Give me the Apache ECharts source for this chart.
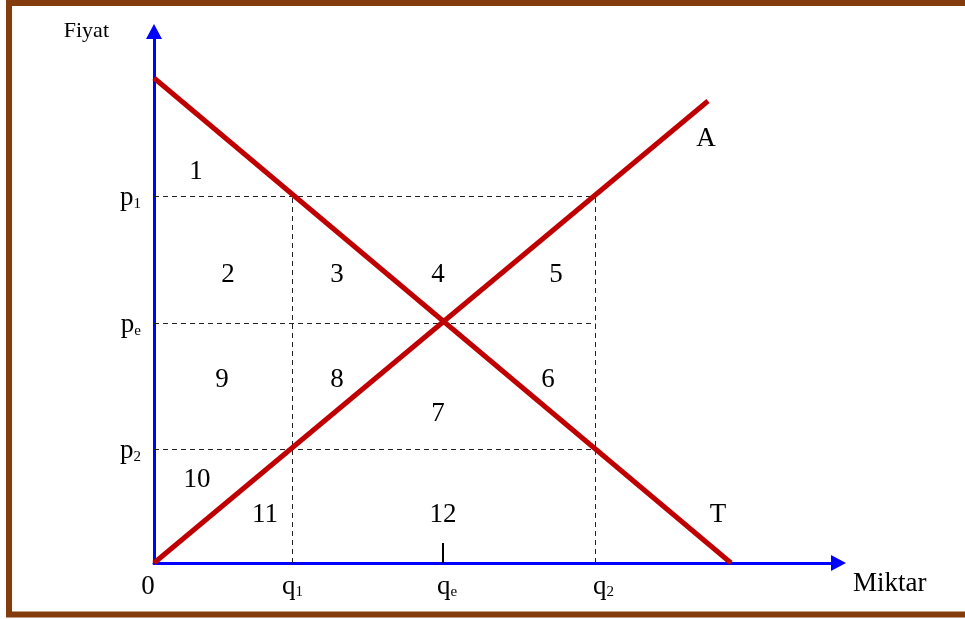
<!DOCTYPE html>
<html>
<head>
<meta charset="utf-8">
<script src="https://cdn.jsdelivr.net/npm/echarts@6/dist/echarts.min.js"></script>
<style>
  html, body { margin: 0; padding: 0; background: #fff; }
  #chart { width: 965px; height: 619px; }
</style>
</head>
<body>
<div id="chart"></div>
<script>
// price / quantity levels (axis units)
const qLevels = { q1: 138.5, qe: 289, q2: 441.5 };
const pLevels = { p1: 366.5, pe: 239.5, p2: 113.5 };

// supply (A) and demand (T) end points
const supply = [[0, 0], [554, 462]];
const demand = [[0, 485], [577, 0]];

// numbered areas + curve names: [x, y, text]
const areaLabels = [
  [42, 391, '1'],
  [74, 288, '2'], [183, 288, '3'], [284, 288, '4'], [402, 288, '5'],
  [68, 183, '9'], [183, 183, '8'], [394, 183, '6'],
  [284, 149, '7'],
  [43, 83, '10'], [111, 48, '11'], [289, 48, '12'],
  [552, 424, 'A'], [564, 48, 'T']
];

const xTickNames = ['{n|0}', '{l|q}{s|1}', '{r|q}{s|e}', '{rr|q}{s|2}'];
const yTickNames = ['{b|p}{s|2}', '{b|p}{s|e}', '{b|p}{s|1}'];
const xTickValues = [0, qLevels.q1, qLevels.qe, qLevels.q2];
const yTickValues = [pLevels.p2, pLevels.pe, pLevels.p1];

const FONT = "'Liberation Serif', 'Times New Roman', serif";
const AXIS_BLUE = '#0000ff';
const RED = '#c00000';

// dashed guide segments built from the levels
const guides = [
  [[0, pLevels.p1], [qLevels.q2, pLevels.p1]],
  [[0, pLevels.pe], [qLevels.q2, pLevels.pe]],
  [[0, pLevels.p2], [qLevels.q2, pLevels.p2]],
  [[qLevels.q1, 0], [qLevels.q1, pLevels.p1]],
  [[qLevels.q2, 0], [qLevels.q2, pLevels.p1]]
];

const subRich = {
  b: { fontSize: 27, fontFamily: FONT, color: '#000', lineHeight: 30, verticalAlign: 'bottom', padding: [4, 0, 0, 0] },
  l: { fontSize: 27, fontFamily: FONT, color: '#000', lineHeight: 30, verticalAlign: 'bottom' },
  r: { fontSize: 27, fontFamily: FONT, color: '#000', lineHeight: 30, verticalAlign: 'bottom', padding: [0, 0, 0, 8] },
  rr: { fontSize: 27, fontFamily: FONT, color: '#000', lineHeight: 30, verticalAlign: 'bottom', padding: [0, 0, 0, 16] },
  n: { fontSize: 27, fontFamily: FONT, color: '#000', lineHeight: 30, verticalAlign: 'bottom', padding: [0, 12, 0, 0] },
  s: { fontSize: 15, fontFamily: FONT, color: '#000', lineHeight: 17, verticalAlign: 'bottom' }
};

function tickName(values, names) {
  return function (v) {
    const i = values.indexOf(v);
    return i >= 0 ? names[i] : '';
  };
}

const chart = echarts.init(document.getElementById('chart'));

const series = [];
guides.forEach(function (seg) {
  series.push({
    type: 'line',
    data: seg,
    symbol: 'none',
    silent: true,
    z: 1,
    lineStyle: { color: '#222', width: 1, type: [5, 4] }
  });
});
series.push({
  type: 'line', data: demand, symbol: 'none', silent: true, z: 3,
  lineStyle: { color: RED, width: 5, cap: 'butt' }
});
series.push({
  type: 'line', data: supply, symbol: 'none', silent: true, z: 3,
  lineStyle: { color: RED, width: 5, cap: 'butt' }
});
series.push({
  type: 'scatter',
  data: areaLabels,
  symbolSize: 0,
  silent: true,
  z: 4,
  itemStyle: { opacity: 1, color: '#000' },
  label: {
    show: true,
    position: 'inside',
    formatter: function (p) { return p.data[2]; },
    fontFamily: FONT,
    fontSize: 27,
    color: '#000',
    opacity: 1,
    textBorderWidth: 0
  }
});

const option = {
  backgroundColor: '#fff',
  animation: false,
  grid: { left: 154, right: 126.5, top: 31.5, bottom: 56 },
  xAxis: {
    type: 'value',
    min: 0,
    max: 684.5,
    name: 'Miktar',
    nameLocation: 'end',
    nameGap: 14.5,
    nameTextStyle: { fontFamily: FONT, fontSize: 27, color: '#000', align: 'left', verticalAlign: 'top', padding: [7, 0, 0, 0] },
    splitLine: { show: false },
    axisLine: {
      show: true,
      symbol: ['none', 'triangle'],
      symbolSize: [16, 15],
      lineStyle: { color: AXIS_BLUE, width: 3 }
    },
    axisTick: {
      show: true,
      inside: true,
      length: 20,
      customValues: [qLevels.qe],
      lineStyle: { color: '#000', width: 2 }
    },
    axisLabel: {
      show: true,
      customValues: xTickValues,
      margin: 7,
      formatter: tickName(xTickValues, xTickNames),
      rich: subRich
    }
  },
  yAxis: {
    type: 'value',
    min: 0,
    max: 531.5,
    name: 'Fiyat',
    nameLocation: 'end',
    nameGap: 0,
    nameTextStyle: { fontFamily: FONT, fontSize: 22, color: '#000', align: 'right', verticalAlign: 'middle', padding: [0, 45, 0, 0] },
    splitLine: { show: false },
    axisLine: {
      show: true,
      symbol: ['none', 'triangle'],
      symbolSize: [16, 15],
      lineStyle: { color: AXIS_BLUE, width: 3 }
    },
    axisTick: { show: false },
    axisLabel: {
      show: true,
      customValues: yTickValues,
      margin: 13,
      formatter: tickName(yTickValues, yTickNames),
      rich: subRich
    }
  },
  graphic: [{
    type: 'rect',
    silent: true,
    z: 100,
    shape: { x: 9, y: 3, width: 980, height: 611.5 },
    style: { fill: 'none', stroke: '#843c0c', lineWidth: 6 }
  }],
  series: series
};

chart.setOption(option);
</script>
</body>
</html>
